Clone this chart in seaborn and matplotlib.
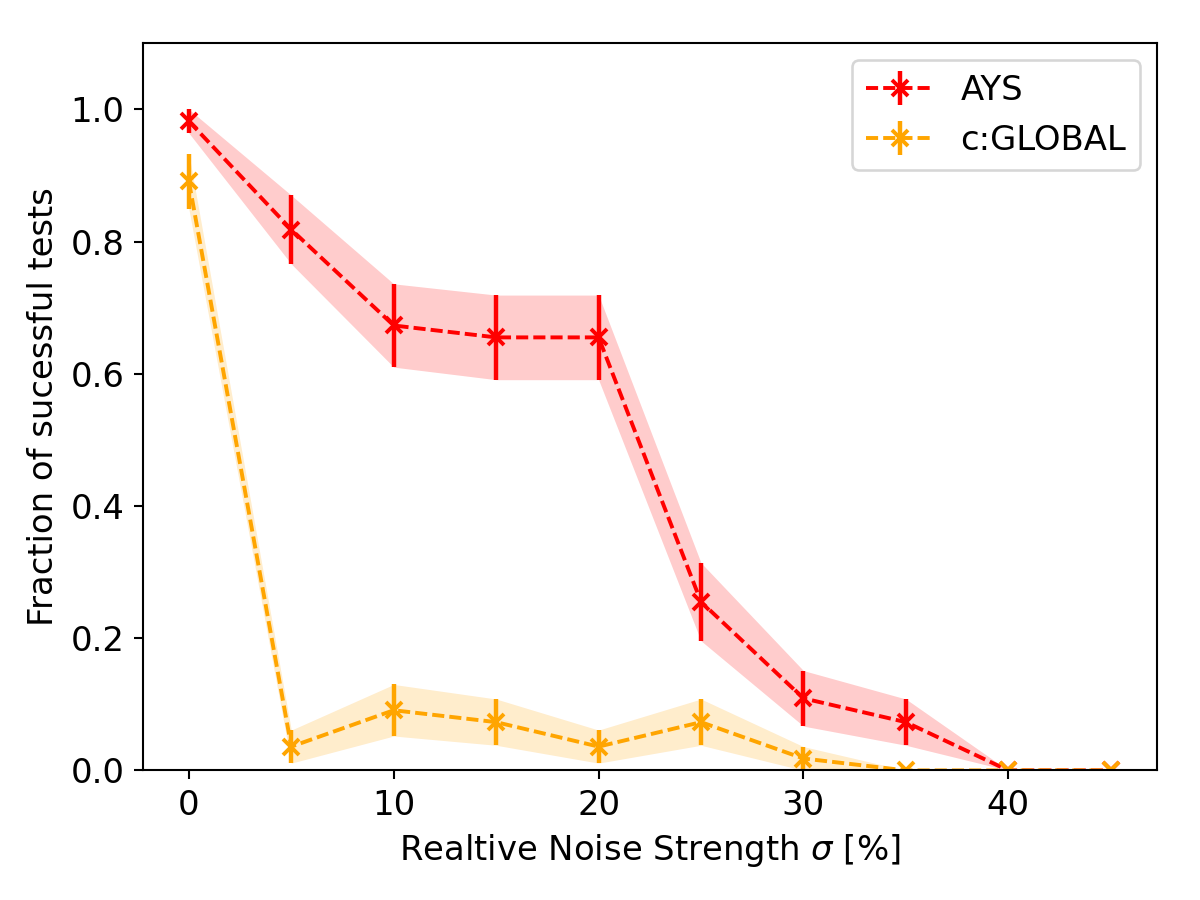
import matplotlib
matplotlib.use("Agg")
import matplotlib.pyplot as plt
import seaborn as sns
import pandas as pd
from matplotlib.legend_handler import HandlerTuple

sigma = [0, 5, 10, 15, 20, 25, 30, 35, 40, 45]
ays_mean = [0.982, 0.818, 0.673, 0.655, 0.655, 0.255, 0.109, 0.073, 0.0, 0.0]
ays_err = [0.018, 0.052, 0.063, 0.064, 0.064, 0.059, 0.042, 0.035, 0.0, 0.0]
glob_mean = [0.891, 0.036, 0.091, 0.073, 0.036, 0.073, 0.018, 0.0, 0.0, 0.0]
glob_err = [0.042, 0.025, 0.039, 0.035, 0.025, 0.035, 0.018, 0.0, 0.0, 0.0]
labels = ["AYS", "c:GLOBAL"]
colors = ["red", "orange"]

sns.set_style("ticks")
plt.rcParams["font.family"] = ["DejaVu Sans"]
plt.rcParams["font.size"] = 13
plt.rcParams["mathtext.fontset"] = "dejavusans"
plt.rcParams["lines.dashed_pattern"] = [3.1, 1.3]
for k in ["text.color", "axes.labelcolor", "xtick.color", "ytick.color"]:
    plt.rcParams[k] = "black"

fig, ax = plt.subplots(figsize=(6.4, 4.8), dpi=187.5)
fig.subplots_adjust(left=0.119, right=0.964, top=0.952, bottom=0.144)

handles = []
for mean, err, lab, col in [(ays_mean, ays_err, labels[0], colors[0]),
                            (glob_mean, glob_err, labels[1], colors[1])]:
    df = pd.DataFrame({"sigma": sigma, "frac": mean})
    sns.lineplot(data=df, x="sigma", y="frac", ax=ax, color=col,
                 linestyle="--", marker="x", markersize=6,
                 markeredgecolor=col, markeredgewidth=1.5, linewidth=1.5,
                 legend=False)
    line = ax.lines[-1]
    lo = [m - e for m, e in zip(mean, err)]
    hi = [m + e for m, e in zip(mean, err)]
    ax.fill_between(sigma, lo, hi, color=col, alpha=0.2, linewidth=0)
    eb = ax.errorbar(sigma, mean, yerr=err, fmt="none", ecolor=col,
                     elinewidth=1.7)
    handles.append((line, eb))

ax.set_ylim(0, 1.1)
ax.set_xlabel(r"Realtive Noise Strength $\sigma$ [%]", fontsize=13)
ax.set_ylabel("Fraction of sucessful tests", fontsize=13)
ax.tick_params(labelsize=13, color="black")
for s in ax.spines.values():
    s.set_visible(True)
    s.set_color("black")
    s.set_linewidth(0.8)
ax.legend(handles, labels, loc="upper right", fontsize=13,
          handler_map={tuple: HandlerTuple(ndivide=1)})

fig.savefig("out.png", dpi=187.5)
